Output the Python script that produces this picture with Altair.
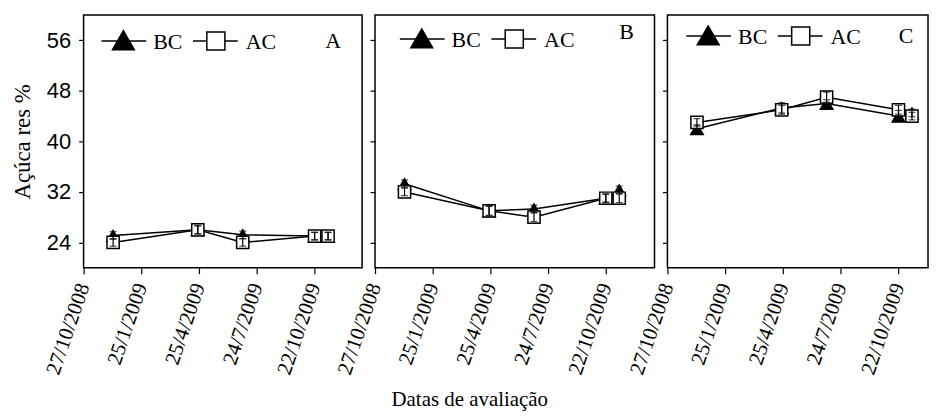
import altair as alt
import pandas as pd

# ---- data ----
dates = ["2008-12-12", "2009-04-23", "2009-07-02", "2009-10-22", "2009-11-12"]
series = ["BC", "AC"]
panels = ["A", "B", "C"]

bc_A = [25.1, 26.0, 25.2, 25.0, 25.0]
ac_A = [24.0, 26.0, 24.0, 25.0, 25.0]
bc_B = [33.3, 29.0, 29.3, 31.0, 32.3]
ac_B = [32.0, 29.0, 28.0, 31.0, 31.0]
bc_C = [42.0, 45.3, 46.0, 44.0, 44.5]
ac_C = [43.0, 45.0, 47.0, 45.0, 44.0]

err_bc_A = [0.6, 0.6, 0.6, 0.6, 0.6]
err_ac_A = [0.6, 0.7, 0.6, 0.6, 0.6]
err_bc_B = [0.6, 0.7, 0.6, 0.7, 0.6]
err_ac_B = [0.6, 0.8, 0.7, 0.6, 0.7]
err_bc_C = [0.6, 0.8, 0.6, 0.9, 0.6]
err_ac_C = [0.6, 0.7, 0.8, 0.7, 0.6]

tick_labels = ["27/10/2008", "25/1/2009", "25/4/2009", "24/7/2009", "22/10/2009"]
y_ticks = [24, 32, 40, 48, 56]

values = {
    "A": (bc_A, err_bc_A, ac_A, err_ac_A),
    "B": (bc_B, err_bc_B, ac_B, err_ac_B),
    "C": (bc_C, err_bc_C, ac_C, err_ac_C),
}

rows = []
for p in panels:
    bc, ebc, ac, eac = values[p]
    for s, vals, errs in (("BC", bc, ebc), ("AC", ac, eac)):
        for d, v, e in zip(dates, vals, errs):
            rows.append(dict(panel=p, date=d, series=s, value=v, lo=v - e, hi=v + e))
df = pd.DataFrame(rows)


def dt(s):
    d, m, y = [int(t) for t in s.split("/")]
    return alt.DateTime(year=y, month=m, date=d, utc=True)


tick_vals = [dt(t) for t in tick_labels]
SERIF = "Liberation Serif"
SANS = "Liberation Sans"


def panel(p, width, dom_end, first, leg):
    d = df[df.panel == p]
    xscale = alt.Scale(type="utc", domain=[dt("27/10/2008"), dt(dom_end)])
    xaxis = alt.Axis(values=tick_vals, format="%-d/%-m/%Y", formatType="time",
                     labelAngle=-71, labelFont=SERIF, labelFontSize=21,
                     labelPadding=10, tickSize=6, labelOverlap=False,
                     labelBound=False, labelFlush=False)
    yscale = alt.Scale(domain=[20, 60], nice=False, zero=False)
    if first:
        yaxis = alt.Axis(values=y_ticks, labelFont=SANS, labelFontSize=22,
                         labelPadding=8, tickSize=5, title="Açúca res %",
                         titleFont=SERIF, titleFontSize=23, titleFontWeight="normal",
                         titlePadding=12)
    else:
        yaxis = alt.Axis(values=y_ticks, labels=False, tickSize=5, title=None)

    X = alt.X("date:T", scale=xscale, axis=xaxis, title=None)
    Y = alt.Y("value:Q", scale=yscale, axis=yaxis)
    base = alt.Chart(d)

    lines = base.mark_line(color="black", strokeWidth=1.5).encode(x=X, y=Y, detail="series:N")
    tri = base.transform_filter(alt.datum.series == "BC").mark_point(
        shape="triangle-up", filled=True, fill="black", color="black", size=230, opacity=1
    ).encode(x=X, y=Y)
    sq = base.transform_filter(alt.datum.series == "AC").mark_point(
        shape="square", filled=True, fill="white", stroke="black", strokeWidth=1.5, size=150, opacity=1
    ).encode(x=X, y=Y)
    ebar = base.mark_rule(color="black", strokeWidth=1.2).encode(
        x=X, y=alt.Y("lo:Q", scale=yscale, axis=yaxis), y2="hi:Q")
    cap_lo = base.mark_tick(color="black", orient="horizontal", size=7, thickness=1.2).encode(
        x=X, y=alt.Y("lo:Q", scale=yscale, axis=yaxis))
    cap_hi = base.mark_tick(color="black", orient="horizontal", size=7, thickness=1.2).encode(
        x=X, y=alt.Y("hi:Q", scale=yscale, axis=yaxis))

    one = alt.Chart(pd.DataFrame({"k": [0]}))
    lx, ly, letter_x, letter_y = leg
    leg_layers = [
        one.mark_rule(color="black", strokeWidth=1.5).encode(
            x=alt.value(lx), x2=alt.value(lx + 45), y=alt.value(ly)),
        one.mark_point(shape="triangle-up", filled=True, fill="black", color="black",
                       size=600, opacity=1).encode(x=alt.value(lx + 22), y=alt.value(ly - 1)),
        one.mark_text(text=series[0], align="left", baseline="middle", font=SERIF,
                      fontSize=22, color="black").encode(x=alt.value(lx + 52), y=alt.value(ly + 1)),
        one.mark_rule(color="black", strokeWidth=1.5).encode(
            x=alt.value(lx + 92), x2=alt.value(lx + 137), y=alt.value(ly)),
        one.mark_point(shape="square", filled=True, fill="white", stroke="black", strokeWidth=1.5,
                       size=330, opacity=1).encode(x=alt.value(lx + 115), y=alt.value(ly)),
        one.mark_text(text=series[1], align="left", baseline="middle", font=SERIF,
                      fontSize=22, color="black").encode(x=alt.value(lx + 145), y=alt.value(ly + 1)),
        one.mark_text(text=p, align="center", baseline="middle", font=SERIF,
                      fontSize=22, color="black").encode(x=alt.value(letter_x), y=alt.value(letter_y)),
    ]

    return alt.layer(lines, tri, sq, ebar, cap_lo, cap_hi, *leg_layers).properties(
        width=width, height=254)


pA = panel("A", 280, "4/1/2010", True, (18, 26, 251, 26))
pB = panel("B", 281, "6/1/2010", False, (25, 24, 253, 17))
pC = panel("C", 262, "7/12/2009", False, (19, 21, 240, 21))

chart = alt.hconcat(pA, pB, pC, spacing=13, bounds="flush").properties(
    padding={"left": 2, "top": 5, "right": 2, "bottom": 0},
    title=alt.TitleParams("Datas de avaliação", orient="bottom", anchor="middle",
                          font=SERIF, fontSize=21, fontWeight="normal", color="black",
                          offset=12, dx=0),
).configure_view(stroke="black", strokeWidth=1.5).configure_axis(
    grid=False, domain=False, tickColor="black", labelColor="black", titleColor="black",
    tickWidth=1.2).configure_title(font=SERIF)

chart.save("out.html", embed_options={"renderer": "svg", "actions": False})
